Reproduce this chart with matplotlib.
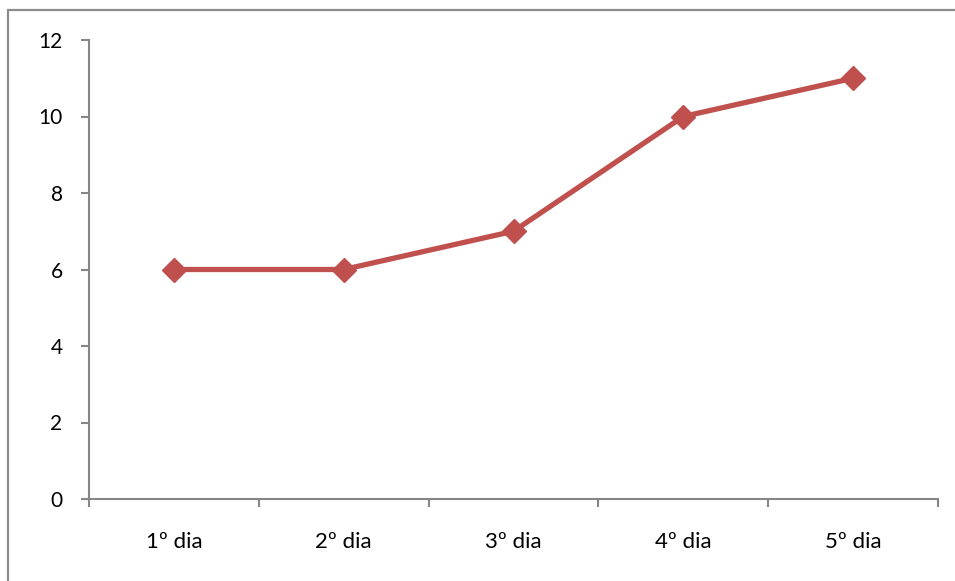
import matplotlib
matplotlib.use("Agg")
import matplotlib.pyplot as plt
from matplotlib.patches import Rectangle

categories = ["1º dia", "2º dia", "3º dia", "4º dia", "5º dia"]
values = [6, 6, 7, 10, 11]
y_ticks = [0, 2, 4, 6, 8, 10, 12]

plt.rcParams['font.family'] = ['Lato', 'DejaVu Sans']

fig = plt.figure(figsize=(9.55, 5.81), dpi=100)
ax = fig.add_axes([89/955, 1 - 499/581, (938 - 89)/955, (499 - 40)/581])

# outer chart frame (partially off-canvas on the right and bottom)
fig.patches.append(Rectangle((8/955, -0.1), 1.2, 1 - 10/581 + 0.1,
                             transform=fig.transFigure, fill=False,
                             edgecolor="#8c8c8c", linewidth=1.6, zorder=0))

x = list(range(len(categories)))
ax.plot(x, values, color="#C0504D", linewidth=3.8, marker="D",
        markersize=12, markeredgecolor="#C0504D", markerfacecolor="#C0504D",
        clip_on=False, zorder=3)

ax.set_xlim(-0.5, len(categories) - 0.5)
ax.set_ylim(0, 12)
ax.set_yticks(y_ticks)
ax.set_yticklabels([str(v) for v in y_ticks])

# category boundaries carry the x tick marks, labels sit in between
ax.set_xticks([i - 0.5 for i in range(len(categories) + 1)])
ax.set_xticklabels([])
ax.set_xticks(x, minor=True)
ax.set_xticklabels(categories, minor=True)
ax.tick_params(axis="x", which="minor", length=0, pad=24, labelsize=16)
ax.tick_params(axis="x", which="major", length=6, width=1.5, color="#868686", direction="out")
ax.tick_params(axis="y", length=6, width=1.5, color="#868686", direction="out",
               pad=13, labelsize=15)

for side in ("top", "right"):
    ax.spines[side].set_visible(False)
for side in ("left", "bottom"):
    ax.spines[side].set_color("#868686")
    ax.spines[side].set_linewidth(1.5)

fig.savefig("out.png", dpi=100)
